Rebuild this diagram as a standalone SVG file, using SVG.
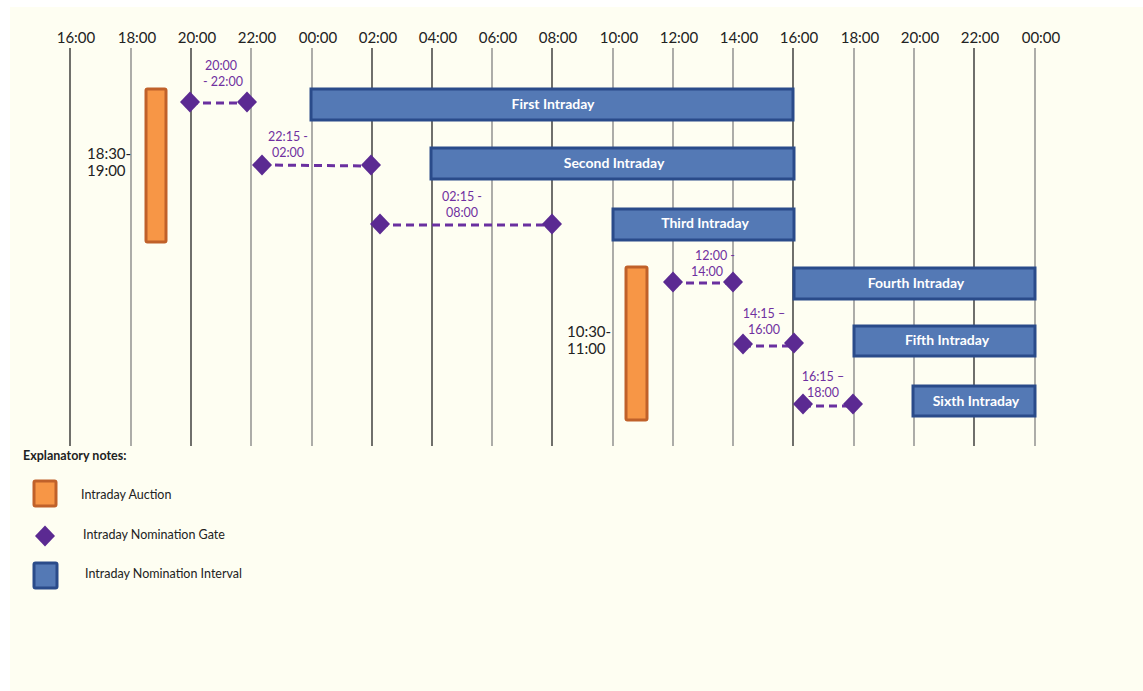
<svg xmlns="http://www.w3.org/2000/svg" width="1143" height="691" viewBox="0 0 1143 691">
<defs>
<style>
.ax{font-family:Lato,"Open Sans","Liberation Sans",sans-serif;font-size:15px;fill:#222;text-anchor:middle}
.gl{stroke-width:1.3}
.dk{stroke:#222}
.gr{stroke:#808080}
.au{fill:#f79646;stroke:#c0612a;stroke-width:3}
.iv{fill:#5479b5;stroke:#2a4b8a;stroke-width:3}
.ivt{font-family:Lato,"Open Sans","Liberation Sans",sans-serif;font-weight:bold;font-size:14px;fill:#fff;text-anchor:middle}
.dm{fill:#5b2a92}
.ds{stroke:#6a30a0;stroke-width:3;stroke-dasharray:8 5;fill:none}
.gt{font-family:Lato,"Open Sans","Liberation Sans",sans-serif;font-size:12.5px;fill:#7030a0;text-anchor:middle}
.tm{font-family:Lato,"Open Sans","Liberation Sans",sans-serif;font-size:15px;fill:#222}
.lg{font-family:Lato,"Open Sans","Liberation Sans",sans-serif;font-size:12.5px;fill:#222}
</style>
<path id="dia" d="M0,-10.5 L10,0 L0,10.5 L-10,0 Z"/>
</defs>
<rect x="0" y="0" width="1143" height="691" fill="#ffffff"/>
<rect x="10" y="7" width="1133" height="684" fill="#fefef2"/>

<g id="axis">
<g class="gl">
<line class="dk" x1="70" y1="48" x2="70" y2="446"/>
<line class="gr" x1="131" y1="48" x2="131" y2="446"/>
<line class="dk" x1="191" y1="48" x2="191" y2="446"/>
<line class="gr" x1="251" y1="48" x2="251" y2="446"/>
<line class="gr" x1="312" y1="48" x2="312" y2="446"/>
<line class="dk" x1="372" y1="48" x2="372" y2="446"/>
<line class="dk" x1="432" y1="48" x2="432" y2="446"/>
<line class="gr" x1="492" y1="48" x2="492" y2="446"/>
<line class="dk" x1="552" y1="48" x2="552" y2="446"/>
<line class="gr" x1="613" y1="48" x2="613" y2="446"/>
<line class="gr" x1="673" y1="48" x2="673" y2="446"/>
<line class="gr" x1="733" y1="48" x2="733" y2="446"/>
<line class="dk" x1="793" y1="48" x2="793" y2="446"/>
<line class="gr" x1="854" y1="48" x2="854" y2="446"/>
<line class="gr" x1="914" y1="48" x2="914" y2="446"/>
<line class="dk" x1="974" y1="48" x2="974" y2="446"/>
<line class="gr" x1="1035" y1="48" x2="1035" y2="446"/>
</g>
<text class="ax" x="76" y="43">16:00</text>
<text class="ax" x="137" y="43">18:00</text>
<text class="ax" x="197" y="43">20:00</text>
<text class="ax" x="257" y="43">22:00</text>
<text class="ax" x="318" y="43">00:00</text>
<text class="ax" x="378" y="43">02:00</text>
<text class="ax" x="438" y="43">04:00</text>
<text class="ax" x="498" y="43">06:00</text>
<text class="ax" x="558" y="43">08:00</text>
<text class="ax" x="619" y="43">10:00</text>
<text class="ax" x="679" y="43">12:00</text>
<text class="ax" x="739" y="43">14:00</text>
<text class="ax" x="799" y="43">16:00</text>
<text class="ax" x="860" y="43">18:00</text>
<text class="ax" x="920" y="43">20:00</text>
<text class="ax" x="980" y="43">22:00</text>
<text class="ax" x="1041" y="43">00:00</text>
</g>

<g id="auction1">
<rect class="au" x="146" y="89" width="20" height="153" rx="1.5"/>
<text class="tm" x="87" y="159">18:30-</text>
<text class="tm" x="87" y="176">19:00</text>
</g>
<g id="auction2">
<rect class="au" x="626" y="267" width="21" height="153" rx="1.5"/>
<text class="tm" x="567" y="337">10:30-</text>
<text class="tm" x="567" y="354">11:00</text>
</g>

<g id="connectors">
<line class="ds" x1="190" y1="103" x2="247" y2="103"/>
<line class="ds" x1="262" y1="165" x2="371" y2="166"/>
<line class="ds" x1="380" y1="225" x2="552" y2="225"/>
<line class="ds" x1="673" y1="283" x2="733" y2="283"/>
<line class="ds" x1="743" y1="346" x2="794" y2="346"/>
<line class="ds" x1="803" y1="406" x2="853" y2="406"/>
</g>

<g id="gate1">
<use href="#dia" class="dm" x="190" y="102"/>
<use href="#dia" class="dm" x="247" y="102"/>
<text class="gt" x="221" y="70">20:00</text>
<text class="gt" x="223" y="86">- 22:00</text>
</g>
<g id="gate2">
<use href="#dia" class="dm" x="262" y="165"/>
<use href="#dia" class="dm" x="371" y="165"/>
<text class="gt" x="288" y="141">22:15 -</text>
<text class="gt" x="288" y="157">02:00</text>
</g>
<g id="gate3">
<use href="#dia" class="dm" x="380" y="224"/>
<use href="#dia" class="dm" x="552" y="224"/>
<text class="gt" x="462" y="201">02:15 -</text>
<text class="gt" x="462" y="217">08:00</text>
</g>
<g id="gate4">
<use href="#dia" class="dm" x="673" y="282"/>
<use href="#dia" class="dm" x="733" y="282"/>
<text class="gt" x="715" y="260">12:00 -</text>
<text class="gt" x="707" y="276">14:00</text>
</g>
<g id="gate5">
<use href="#dia" class="dm" x="743" y="344"/>
<use href="#dia" class="dm" x="794" y="343"/>
<text class="gt" x="764" y="318">14:15 –</text>
<text class="gt" x="764" y="334">16:00</text>
</g>
<g id="gate6">
<use href="#dia" class="dm" x="803" y="404"/>
<use href="#dia" class="dm" x="853" y="404"/>
<text class="gt" x="823" y="381">16:15 –</text>
<text class="gt" x="823" y="397">18:00</text>
</g>

<g id="first">
<rect class="iv" x="311" y="89" width="482" height="31"/>
<text class="ivt" x="553" y="109">First Intraday</text>
</g>
<g id="second">
<rect class="iv" x="431" y="148" width="363" height="31"/>
<text class="ivt" x="614" y="168">Second Intraday</text>
</g>
<g id="third">
<rect class="iv" x="613" y="209" width="181" height="31"/>
<text class="ivt" x="705" y="228">Third Intraday</text>
</g>
<g id="fourth">
<rect class="iv" x="794" y="268" width="241" height="31"/>
<text class="ivt" x="916" y="288">Fourth Intraday</text>
</g>
<g id="fifth">
<rect class="iv" x="854" y="326" width="181" height="30"/>
<text class="ivt" x="947" y="345">Fifth Intraday</text>
</g>
<g id="sixth">
<rect class="iv" x="913" y="386" width="122" height="30"/>
<text class="ivt" x="976" y="406">Sixth Intraday</text>
</g>

<g id="legend">
<text class="lg" x="23" y="460" font-weight="bold" font-size="12">Explanatory notes:</text>
<rect class="au" x="34" y="481" width="22" height="25" rx="1.5"/>
<text class="lg" x="81" y="499">Intraday Auction</text>
<use href="#dia" class="dm" x="45" y="536"/>
<text class="lg" x="83" y="539">Intraday Nomination Gate</text>
<rect class="iv" x="34" y="563" width="23" height="25" rx="1.5"/>
<text class="lg" x="85" y="578">Intraday Nomination Interval</text>
</g>
</svg>
